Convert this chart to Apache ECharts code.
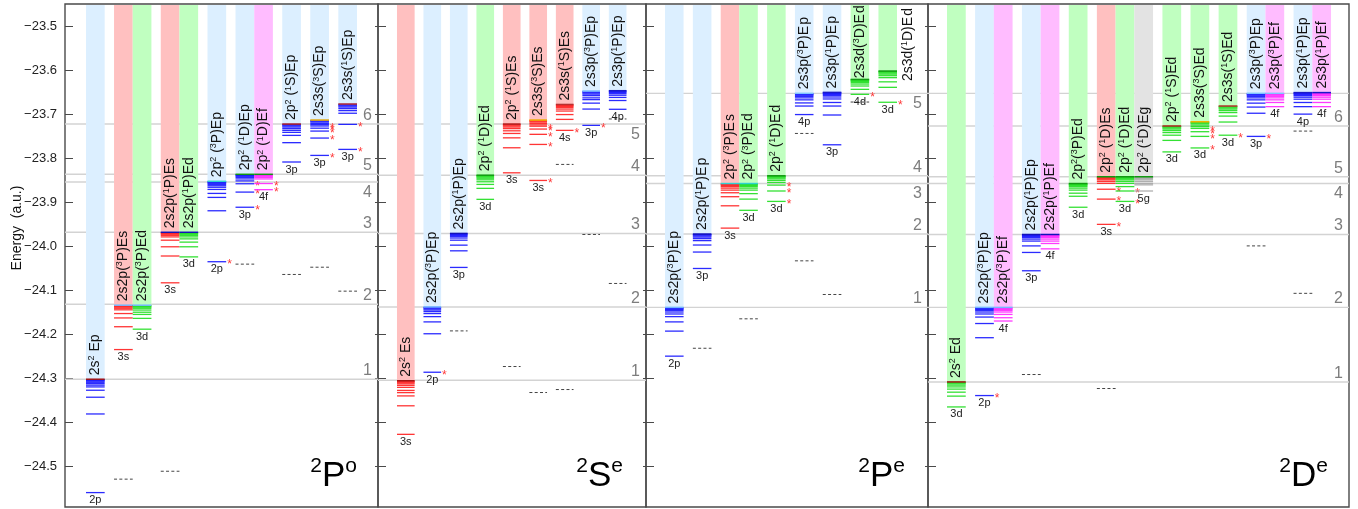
<!DOCTYPE html>
<html>
<head>
<meta charset="utf-8">
<script src="https://cdn.jsdelivr.net/npm/echarts@6/dist/echarts.min.js"></script>
<style>
  html, body { margin: 0; padding: 0; background: #fff; }
  #chart { width: 1358px; height: 509px; }
</style>
</head>
<body>
<div id="chart"></div>
<script>
// ---------- energy axis ----------
const energyTicks = [-24.5, -24.4, -24.3, -24.2, -24.1, -24.0, -23.9, -23.8, -23.7, -23.6, -23.5];
const energyRange = [-24.5934, -23.4483];

// ---------- ²P° symmetry ----------
const poChannels = ['2s² Ep', '2s2p(³P)Es', '2s2p(³P)Ed', '2s2p(¹P)Es', '2s2p(¹P)Ed', '2p² (³P)Ep', '2p² (¹D)Ep', '2p² (¹D)Ef', '2p² (¹S)Ep', '2s3s(³S)Ep', '2s3s(¹S)Ep'];
const poThresholds = [-24.3025, -24.134, -24.134, -23.968, -23.968, -23.852, -23.836, -23.836, -23.7216, -23.7125, -23.676];
const poLevels = [
  [-24.3035, -24.3050, -24.3070, -24.3095, -24.3125, -24.3160, -24.3200, -24.3276, -24.3435, -24.3816, -24.5606],
  [-24.1350, -24.1365, -24.1385, -24.1410, -24.1445, -24.1530, -24.1630, -24.1830, -24.2350],
  [-24.1350, -24.1365, -24.1385, -24.1410, -24.1450, -24.1500, -24.1550, -24.1640, -24.1886],
  [-23.9690, -23.9705, -23.9725, -23.9750, -23.9785, -23.9860, -24.0010, -24.0220, -24.0830],
  [-23.9690, -23.9705, -23.9725, -23.9750, -23.9785, -23.9830, -23.9904, -24.0010, -24.0240],
  [-23.8530, -23.8545, -23.8565, -23.8590, -23.8620, -23.8655, -23.8704, -23.8795, -23.8886, -23.9190, -24.0350],
  [-23.8370, -23.8385, -23.8405, -23.8430, -23.8465, -23.8510, -23.8575, -23.8765, -23.9110],
  [-23.8370, -23.8385, -23.8405, -23.8430, -23.8465, -23.8570, -23.8710],
  [-23.7225, -23.7240, -23.7260, -23.7285, -23.7320, -23.7360, -23.7405, -23.7474, -23.7640, -23.8080],
  [-23.7135, -23.7150, -23.7170, -23.7200, -23.7230, -23.7260, -23.7310, -23.7376, -23.7535, -23.7930],
  [-23.6770, -23.6785, -23.6805, -23.6830, -23.6865, -23.6910, -23.6970, -23.7223, -23.7793]
];
const poStarred = [[], [], [], [], [], [-24.0350], [-23.8575, -23.8765, -23.9110], [-23.8570, -23.8710], [],
  [-23.7260, -23.7310, -23.7376, -23.7535, -23.7930], [-23.7223, -23.7793]];
const poTags = ['2p', '3s', '3d', '3s', '3d', '2p', '3p', '4f', '3p', '3p', '3p'];
const poDashed = [[1, -24.530], [3, -24.512], [6, -24.0405], [8, -24.064], [9, -24.0475], [10, -24.102]];
const poLines = [-24.3025, -24.132, -23.968, -23.8535, -23.836, -23.7216];
const poLineLabels = ['1', '2', '3', '4', '5', '6'];

// ---------- ²Sᵉ symmetry ----------
const seChannels = ['2s² Es', '2s2p(³P)Ep', '2s2p(¹P)Ep', '2p² (¹D)Ed', '2p² (¹S)Es', '2s3s(³S)Es', '2s3s(¹S)Es', '2s3p(³P)Ep', '2s3p(¹P)Ep'];
const seThresholds = [-24.306, -24.138, -23.9706, -23.838, -23.7216, -23.7125, -23.677, -23.6465, -23.6457];
const seLevels = [
  [-24.3070, -24.3085, -24.3105, -24.3130, -24.3165, -24.3210, -24.3280, -24.3330, -24.3405, -24.3630, -24.4280],
  [-24.1390, -24.1405, -24.1425, -24.1450, -24.1485, -24.1530, -24.1600, -24.1720, -24.1990, -24.2866],
  [-23.9715, -23.9730, -23.9750, -23.9775, -23.9810, -23.9860, -23.9973, -24.0102, -24.0480],
  [-23.8390, -23.8405, -23.8425, -23.8450, -23.8485, -23.8530, -23.8590, -23.8680, -23.8930],
  [-23.7225, -23.7240, -23.7260, -23.7285, -23.7320, -23.7370, -23.7430, -23.7530, -23.7756, -23.8326],
  [-23.7135, -23.7150, -23.7170, -23.7200, -23.7235, -23.7265, -23.7330, -23.7450, -23.7680, -23.8500],
  [-23.6780, -23.6795, -23.6815, -23.6840, -23.6875, -23.6920, -23.7000, -23.7110, -23.7360],
  [-23.6475, -23.6490, -23.6510, -23.6535, -23.6570, -23.6620, -23.6660, -23.6740, -23.6875, -23.7246],
  [-23.6465, -23.6480, -23.6500, -23.6525, -23.6560, -23.6610, -23.6680, -23.6880]
];
const seStarred = [[], [-24.2866], [], [], [], [-23.7265, -23.7330, -23.7450, -23.7680, -23.8500], [-23.7360], [-23.7246], []];
const seTags = ['3s', '2p', '3p', '3d', '3s', '3s', '4s', '3p', '4p'];
const seDashed = [[2, -24.1925], [4, -24.2736], [5, -24.3328], [6, -23.8135], [6, -24.326], [7, -23.973], [8, -24.0845], [8, -23.710]];
const seLines = [-24.3047, -24.138, -23.9706, -23.838, -23.7216];
const seLineLabels = ['1', '2', '3', '4', '5'];

// ---------- ²Pᵉ symmetry ----------
const peChannels = ['2s2p(³P)E\u200Ap', '2s2p(¹P)E\u200Ap', '2p² (³P)E\u200As', '2p² (³P)E\u200Ad', '2p² (¹D)E\u200Ad', '2s3p(³P)E\u200Ap', '2s3p(¹P)E\u200Ap', '2s3d(³D)E\u200Ad', '2s3d(¹D)E\u200Ad'];
const peThresholds = [-24.139, -23.972, -23.857, -23.857, -23.8394, -23.6517, -23.6495, -23.620, -23.601];
const peLevels = [
  [-24.1400, -24.1415, -24.1435, -24.1460, -24.1495, -24.1540, -24.1600, -24.1720, -24.1930, -24.2500],
  [-23.9730, -23.9745, -23.9765, -23.9790, -23.9825, -23.9870, -23.9970, -24.0130, -24.0504],
  [-23.8580, -23.8595, -23.8615, -23.8640, -23.8675, -23.8720, -23.8780, -23.8870, -23.9077, -23.9585],
  [-23.8580, -23.8595, -23.8615, -23.8640, -23.8675, -23.8720, -23.8800, -23.8925, -23.9180],
  [-23.8405, -23.8420, -23.8440, -23.8465, -23.8500, -23.8545, -23.8606, -23.8740, -23.8977],
  [-23.6525, -23.6540, -23.6560, -23.6585, -23.6620, -23.6665, -23.6735, -23.6806, -23.7000],
  [-23.6505, -23.6520, -23.6540, -23.6565, -23.6600, -23.6645, -23.6725, -23.6806, -23.7010, -23.7688],
  [-23.6210, -23.6225, -23.6245, -23.6270, -23.6305, -23.6350, -23.6426, -23.6540],
  [-23.6020, -23.6035, -23.6055, -23.6080, -23.6115, -23.6160, -23.6255, -23.6380, -23.6720]
];
const peStarred = [[], [], [], [], [-23.8606, -23.8740, -23.8977], [], [], [-23.6540], [-23.6720]];
const peTags = ['2p', '3p', '3s', '3d', '3d', '4p', '3p', '4d', '3d'];
const peDashed = [[1, -24.232], [3, -24.165], [5, -24.033], [5, -23.743], [6, -24.1096], [7, -23.6715]];
const peLines = [-24.139, -23.972, -23.857, -23.8394, -23.6517];
const peLineLabels = ['1', '2', '3', '4', '5'];

// ---------- ²Dᵉ symmetry ----------
const deChannels = ['2s² Ed', '2s2p(³P)Ep', '2s2p(³P)Ef', '2s2p(¹P)Ep', '2s2p(¹P)Ef', '2p²(³P)Ed', '2p² (¹D)Es', '2p² (¹D)Ed', '2p² (¹D)Eg',
  '2p² (¹S)Ed', '2s3s(³S)Ed', '2s3s(¹S)Ed', '2s3p(³P)Ep', '2s3p(³P)Ef', '2s3p(¹P)Ep', '2s3p(¹P)Ef'];
const deThresholds = [-24.3087, -24.139, -24.139, -23.973, -23.973, -23.857, -23.8416, -23.8416, -23.8416, -23.726, -23.7164, -23.6806, -23.6517, -23.6517, -23.650, -23.650];
const deLevels = [
  [-24.3095, -24.3110, -24.3130, -24.3160, -24.3200, -24.3250, -24.3320, -24.3410, -24.3656],
  [-24.1400, -24.1415, -24.1435, -24.1460, -24.1495, -24.1540, -24.1610, -24.1757, -24.2080, -24.3397],
  [-24.1400, -24.1415, -24.1435, -24.1460, -24.1495, -24.1550, -24.1625, -24.1700],
  [-23.9740, -23.9755, -23.9775, -23.9800, -23.9835, -23.9880, -23.9990, -24.0139, -24.0556],
  [-23.9740, -23.9755, -23.9775, -23.9800, -23.9835, -23.9880, -23.9935, -24.0057],
  [-23.8580, -23.8595, -23.8615, -23.8640, -23.8675, -23.8720, -23.8790, -23.8860, -23.9110],
  [-23.8425, -23.8440, -23.8460, -23.8485, -23.8520, -23.8565, -23.8700, -23.8925, -23.9500],
  [-23.8425, -23.8440, -23.8460, -23.8485, -23.8520, -23.8565, -23.8640, -23.8740, -23.8977],
  [-23.8425, -23.8440, -23.8460, -23.8485, -23.8520, -23.8565, -23.8600, -23.8740],
  [-23.7270, -23.7285, -23.7305, -23.7330, -23.7365, -23.7410, -23.7470, -23.7588, -23.7850],
  [-23.7175, -23.7190, -23.7210, -23.7240, -23.7275, -23.7315, -23.7390, -23.7497, -23.7760],
  [-23.6815, -23.6830, -23.6850, -23.6875, -23.6910, -23.6955, -23.7035, -23.7170, -23.7470],
  [-23.6525, -23.6540, -23.6560, -23.6585, -23.6620, -23.6665, -23.6740, -23.6830, -23.6970, -23.7497],
  [-23.6525, -23.6540, -23.6560, -23.6585, -23.6620, -23.6665, -23.6725, -23.6820],
  [-23.6510, -23.6525, -23.6545, -23.6570, -23.6605, -23.6650, -23.6725, -23.6820, -23.6990],
  [-23.6510, -23.6525, -23.6545, -23.6570, -23.6605, -23.6650, -23.6725, -23.6820]
];
const deStarred = [[], [-24.3397], [], [], [], [], [-23.8700, -23.8925, -23.9500], [-23.8740, -23.8977], [], [],
  [-23.7315, -23.7390, -23.7497, -23.7760], [-23.7470], [-23.7497], [], [], []];
const deTags = ['3d', '2p', '4f', '3p', '4f', '3d', '3s', '3d', '5g', '3d', '3d', '3d', '3p', '4f', '4p', '4f'];
const deDashed = [[3, -24.2918], [6, -24.3237], [12, -23.999], [14, -24.107], [14, -23.7376]];
const deLines = [-24.3087, -24.139, -23.973, -23.857, -23.8416, -23.726, -23.6517];
const deLineLabels = ['1', '2', '3', '4', '5', '6', ''];

// ---------- styling ----------
const FONT = '"Liberation Sans", Arial, Helvetica, sans-serif';
const WAVE_LINE = { s: '#ff1f1f', p: '#1414ff', d: '#1ede1e', f: '#ff26ff', g: '#a6a6a6' };
const WAVE_BG = { s: '#ffc0c0', p: '#dcefff', d: '#c0ffc0', f: '#ffbcff', g: '#e3e3e3' };
const CORE_EDGE = {
  '2s²': '#a31515', '2s2p(³P)': '#74b8ff', '2s2p(¹P)': '#1212b8', '2p² (³P)': '#2fd2d2', '2p²(³P)': '#119911',
  '2p² (¹D)': '#119911', '2p² (¹S)': '#b02020', '2s3s(³S)': '#f0b400', '2s3s(¹S)': '#b83030',
  '2s3p(³P)': '#80c4ff', '2s3p(¹P)': '#1a1ac8', '2s3d(³D)': '#139a13', '2s3d(¹D)': '#139a13'
};

// panel frames in pixels and their horizontal unit ranges (one channel = 2 units, gap = 1 unit)
const frames = [
  { left: 65, right: 378, xMin: -2.247, xMax: 31.247, sides: 'aaabaa', title: ['2', 'P', 'o'], titleRight: 357 },
  { left: 378, right: 646, xMin: -2.15, xMax: 28.21, sides: 'aaaab', title: ['2', 'S', 'e'], titleRight: 623 },
  { left: 646, right: 928, xMin: -2.05, xMax: 28.34, sides: 'aabab', title: ['2', 'P', 'e'], titleRight: 905 },
  { left: 928, right: 1349, xMin: -2.03, xMax: 42.92, sides: 'aaabaa', title: ['2', 'D', 'e'], titleRight: 1328 }
];

const panelData = [
  { channels: poChannels, thr: poThresholds, levels: poLevels, starred: poStarred, tags: poTags, dashed: poDashed, lines: poLines, lineLabels: poLineLabels },
  { channels: seChannels, thr: seThresholds, levels: seLevels, starred: seStarred, tags: seTags, dashed: seDashed, lines: seLines, lineLabels: seLineLabels },
  { channels: peChannels, thr: peThresholds, levels: peLevels, starred: peStarred, tags: peTags, dashed: peDashed, lines: peLines, lineLabels: peLineLabels },
  { channels: deChannels, thr: deThresholds, levels: deLevels, starred: deStarred, tags: deTags, dashed: deDashed, lines: deLines, lineLabels: deLineLabels }
];

// ---------- helpers ----------
const SUP = { '¹': '1', '²': '2', '³': '3' };
function richLabel(s) {
  let out = '', buf = '';
  for (const ch of s) {
    if (SUP[ch]) {
      if (buf) { out += '{n|' + buf + '}'; buf = ''; }
      out += '{u|' + SUP[ch] + '}';
    } else buf += ch;
  }
  if (buf) out += '{n|' + buf + '}';
  return out;
}
const measureCtx = document.createElement('canvas').getContext('2d');
function labelWidth(s) {
  let w = 0;
  for (const ch of s) {
    measureCtx.font = (SUP[ch] ? '9px ' : '14px ') + FONT;
    w += measureCtx.measureText(SUP[ch] || ch).width;
  }
  return w;
}
const LABEL_RICH = {
  n: { fontSize: 14, fontFamily: FONT, lineHeight: 16, fill: '#111' },
  u: { fontSize: 9, fontFamily: FONT, lineHeight: 10, verticalAlign: 'top', fill: '#111' }
};

// build channel columns: channels sharing a core state sit side by side
function buildColumns(pd) {
  const cols = [];
  let x = 0, prevCore = null;
  pd.channels.forEach((label, i) => {
    const core = label.slice(0, label.lastIndexOf('E')).trim();
    if (prevCore !== null && core !== prevCore) x += 1;
    cols.push({
      label, core, wave: label.charAt(label.length - 1), x0: x,
      thr: pd.thr[i], levels: pd.levels[i], starred: pd.starred[i], tag: pd.tags[i]
    });
    x += 2;
    prevCore = core;
  });
  return cols;
}

// ---------- option ----------
const grids = [], xAxes = [], yAxes = [], series = [], graphics = [];
const fmt = v => Number(v).toFixed(1).replace('-', '\u2212');

frames.forEach((f, i) => {
  const pd = panelData[i];
  const cols = buildColumns(pd);
  grids.push({ left: f.left, top: 4, width: f.right - f.left, height: 503, show: true,
    borderColor: '#4a4a4a', borderWidth: 1.4, backgroundColor: 'transparent' });
  xAxes.push({ type: 'value', gridIndex: i, min: f.xMin, max: f.xMax, show: false });
  const yi = yAxes.length;
  yAxes.push({
    type: 'value', gridIndex: i, position: 'left', min: energyRange[0], max: energyRange[1],
    axisLine: { show: false, onZero: false }, splitLine: { show: false },
    axisTick: { show: true, inside: true, length: 8, customValues: energyTicks, lineStyle: { color: '#4a4a4a', width: 1 } },
    axisLabel: { show: i === 0, customValues: energyTicks, formatter: fmt, fontSize: 13, fontFamily: FONT, color: '#222', margin: 8 }
  });
  if (i < 3) {
    yAxes.push({
      type: 'value', gridIndex: i, position: 'right', min: energyRange[0], max: energyRange[1],
      axisLine: { show: false, onZero: false }, splitLine: { show: false },
      axisTick: { show: true, inside: true, length: 3, customValues: energyTicks, lineStyle: { color: '#4a4a4a', width: 1 } },
      axisLabel: { show: false }
    });
  }

  // numbered threshold reference lines
  series.push({
    type: 'custom', xAxisIndex: i, yAxisIndex: yi, z: 1, silent: true,
    data: pd.lines.map((e, k) => [f.xMin, e, k]),
    encode: { x: 0, y: 1 },
    renderItem: (params, api) => {
      const k = api.value(2);
      const a = api.coord([f.xMin, api.value(1)]);
      const b = api.coord([f.xMax, api.value(1)]);
      const children = [{ type: 'line', shape: { x1: a[0], y1: a[1], x2: b[0], y2: b[1] }, style: { stroke: '#d3d3d3', lineWidth: 1.4 } }];
      const txt = pd.lineLabels[k];
      if (txt) {
        const below = f.sides.charAt(k) === 'b';
        children.push({ type: 'text', x: b[0] - 6, y: a[1] + (below ? 10.5 : -8.5),
          style: { text: txt, font: '16px ' + FONT, fill: '#7d7d7d', align: 'right', verticalAlign: 'middle' } });
      }
      return { type: 'group', children };
    }
  });

  // channel backgrounds (from the top of the frame down to the threshold)
  series.push({
    type: 'custom', xAxisIndex: i, yAxisIndex: yi, z: 2, silent: true,
    data: cols.map(c => [c.x0, c.thr]),
    encode: { x: 0, y: 1 },
    renderItem: (params, api) => {
      const c = cols[params.dataIndex];
      const top = api.coord([c.x0, energyRange[1]]);
      const thr = api.coord([c.x0, c.thr]);
      const w = api.size([2, 0])[0];
      return { type: 'rect', shape: { x: top[0], y: top[1] + 1, width: w, height: thr[1] - top[1] - 1 },
        style: { fill: WAVE_BG[c.wave] } };
    }
  });

  // dashed reference positions
  series.push({
    type: 'custom', xAxisIndex: i, yAxisIndex: yi, z: 3, silent: true,
    data: pd.dashed.map(d => [cols[d[0]].x0, d[1]]),
    encode: { x: 0, y: 1 },
    renderItem: (params, api) => {
      const p = api.coord([api.value(0), api.value(1)]);
      const w = api.size([2, 0])[0];
      return { type: 'line', shape: { x1: p[0], y1: p[1], x2: p[0] + w, y2: p[1] },
        style: { stroke: '#444', lineWidth: 1, lineDash: [3, 2.3] } };
    }
  });

  // levels, markers and channel labels
  series.push({
    type: 'custom', xAxisIndex: i, yAxisIndex: yi, z: 4, silent: true,
    data: cols.map(c => [c.x0, c.thr]),
    encode: { x: 0, y: 1 },
    renderItem: (params, api) => {
      const c = cols[params.dataIndex];
      const thrP = api.coord([c.x0, c.thr]);
      const topY = api.coord([c.x0, energyRange[1]])[1];
      const w = api.size([2, 0])[0];
      const x1 = thrP[0], x2 = x1 + w, cx = x1 + w / 2;
      const color = WAVE_LINE[c.wave];
      const children = [];
      c.levels.forEach(e => {
        const y = api.coord([c.x0, e])[1];
        children.push({ type: 'line', shape: { x1, y1: y, x2, y2: y }, style: { stroke: color, lineWidth: 1.3, opacity: 0.9 } });
      });
      children.push({ type: 'line', shape: { x1, y1: thrP[1], x2, y2: thrP[1] },
        style: { stroke: CORE_EDGE[c.core] || '#333', lineWidth: 1.5 } });
      c.starred.forEach(e => {
        const y = api.coord([c.x0, e])[1];
        children.push({ type: 'text', x: x2 + 1, y: y + 3,
          style: { text: '*', font: '12px ' + FONT, fill: '#ff3a3a', align: 'left', verticalAlign: 'middle' } });
      });
      const lowest = Math.min.apply(null, c.levels);
      const ly = api.coord([c.x0, lowest])[1];
      children.push({ type: 'text', x: cx, y: ly + 2,
        style: { text: c.tag, font: '11px ' + FONT, fill: '#222', align: 'center', verticalAlign: 'top' } });
      const tw = labelWidth(c.label);
      const room = thrP[1] - topY;
      let lx = cx, lb;
      if (room - tw >= 0) {
        lb = thrP[1] - Math.min(4, (room - tw) / 2);
      } else {
        lx = x2 + 11;
        lb = topY + 4 + tw;
      }
      children.push({ type: 'text', x: lx, y: lb, rotation: Math.PI / 2,
        style: { text: richLabel(c.label), rich: LABEL_RICH, align: 'left', verticalAlign: 'middle' } });
      return { type: 'group', children };
    }
  });

  // symmetry title
  graphics.push({
    type: 'text', x: f.titleRight, y: 496, z: 10,
    style: {
      text: '{s|' + f.title[0] + '}{b|' + f.title[1] + '}{s|' + f.title[2] + '}',
      rich: {
        b: { fontSize: 35, fontFamily: FONT, lineHeight: 40, fill: '#000' },
        s: { fontSize: 21, fontFamily: FONT, lineHeight: 24, verticalAlign: 'top', fill: '#000' }
      },
      align: 'right', verticalAlign: 'bottom'
    }
  });
});

graphics.push({
  type: 'text', x: 17, y: 228, rotation: Math.PI / 2, z: 10,
  style: { text: 'Energy  (a.u.)', font: '14px ' + FONT, fill: '#111', align: 'center', verticalAlign: 'middle' }
});

const chart = echarts.init(document.getElementById('chart'), null, { renderer: 'canvas' });
chart.setOption({
  animation: false,
  backgroundColor: '#fff',
  grid: grids,
  xAxis: xAxes,
  yAxis: yAxes,
  series: series,
  graphic: graphics
});
</script>
</body>
</html>
